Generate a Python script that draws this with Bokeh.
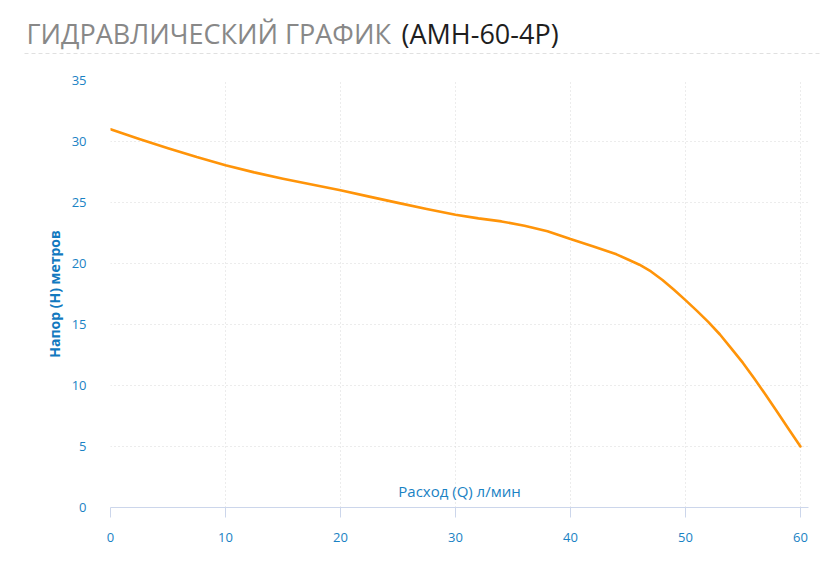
from bokeh.plotting import figure
from bokeh.layouts import column
from bokeh.models import Range1d, Label, FixedTicker
from bokeh.core.properties import value
from bokeh.embed import file_html
from bokeh.resources import INLINE

# ---- data ----
title_main = "ГИДРАВЛИЧЕСКИЙ ГРАФИК"
title_model = "(АМН-60-4Р)"
x_label = "Расход (Q) л/мин"
y_label = "Напор (Н) метров"

flow = [0, 2.5, 5, 7.5, 10, 12.5, 15, 17.5, 20, 22.5, 25, 27.5, 30, 32, 34, 36, 38, 40,
        42, 44, 45, 46, 47, 48, 49, 50, 51, 52, 53, 54, 55, 56, 57, 58, 59, 60]
head = [31.0, 30.2, 29.45, 28.72, 28.05, 27.47, 26.95, 26.47, 26.0, 25.48, 24.97, 24.47, 24.0,
        23.7, 23.45, 23.1, 22.65, 22.0, 21.4, 20.75, 20.33, 19.9, 19.35, 18.65, 17.85, 17.0,
        16.12, 15.2, 14.18, 13.02, 11.85, 10.55, 9.2, 7.8, 6.4, 5.0]
x_ticks = [0, 10, 20, 30, 40, 50, 60]
y_ticks = [0, 5, 10, 15, 20, 25, 30, 35]

BLUE = "#1a82c4"
FONT = "Open Sans"
W = 825

# ---- title strip ----
t = figure(width=W, height=60, x_range=Range1d(0, W), y_range=Range1d(60, 0),
           output_backend="svg", toolbar_location=None, min_border=0)
t.frame_align = False
t.axis.visible = False
t.grid.visible = False
t.outline_line_color = None
t.text(x=[26], y=[33], text=[title_main], text_font=value(FONT), text_font_size="27px",
       text_color="#888888", text_baseline="alphabetic", text_align="left")
t.text(x=[401], y=[33], text=[title_model], text_font=value(FONT), text_font_size="27px",
       text_color="#1e1e1e", text_baseline="alphabetic", text_align="left")
t.line(x=[24, 822], y=[53, 53], line_color="#e0e0e0", line_width=1, line_dash="4 3")

# ---- main chart ----
p = figure(width=W, height=515, x_range=Range1d(0, 60.7), y_range=Range1d(0, 35),
           output_backend="svg", toolbar_location=None,
           min_border_left=110, min_border_right=17, min_border_top=20, min_border_bottom=68)
p.frame_align = False
p.outline_line_color = None

p.line(x=flow, y=head, line_color="#ff9409", line_width=2.6, line_join="round", line_cap="round")

xa = p.xaxis[0]
xa.ticker = FixedTicker(ticks=x_ticks)
xa.axis_line_color = "#ccd6eb"
xa.major_tick_line_color = "#ccd6eb"
xa.major_tick_out = 10
xa.major_tick_in = 0
xa.minor_tick_line_color = None
xa.major_label_text_color = BLUE
xa.major_label_text_font = FONT
xa.major_label_text_font_size = "13px"
xa.major_label_standoff = 15

ya = p.yaxis[0]
ya.ticker = FixedTicker(ticks=y_ticks)
ya.axis_line_color = None
ya.major_tick_line_color = None
ya.minor_tick_line_color = None
ya.major_label_text_color = BLUE
ya.major_label_text_font = FONT
ya.major_label_text_font_size = "13px"
ya.major_label_standoff = 18
ya.axis_label = y_label
ya.axis_label_text_color = "#1279bf"
ya.axis_label_text_font = FONT
ya.axis_label_text_font_style = "bold"
ya.axis_label_text_font_size = "14px"
ya.axis_label_standoff = 5

p.xgrid.ticker = FixedTicker(ticks=x_ticks)
p.ygrid.ticker = FixedTicker(ticks=y_ticks[1:])
for g in (p.xgrid[0], p.ygrid[0]):
    g.grid_line_color = "#d8d8d8"
    g.grid_line_dash = "1 3"
    g.grid_line_width = 1

p.add_layout(Label(x=(p.x_range.start + p.x_range.end) / 2, y=0, y_offset=7,
                   text=x_label, text_align="center", text_baseline="bottom",
                   text_color=BLUE, text_font=FONT, text_font_size="15px"))

layout = column(t, p, spacing=0)
open("out.html", "w").write(file_html(layout, INLINE))
